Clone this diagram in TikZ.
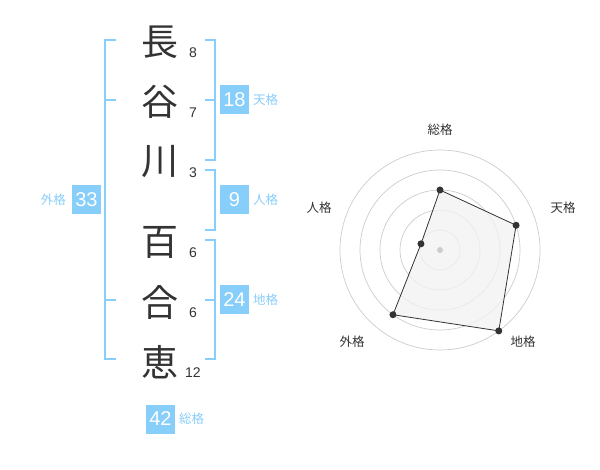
\documentclass[tikz,border=0pt]{standalone}
\usepackage{fontspec}
\usetikzlibrary{calc}
\setmainfont{Noto Sans CJK JP}
\newfontfamily\digitfont{Liberation Sans}
\definecolor{sky}{HTML}{87CEFA}
\definecolor{ink}{HTML}{333333}
\definecolor{ring}{HTML}{CCCCCC}
\definecolor{area}{HTML}{F2F2F2}
\tikzset{
  kanji/.style={font=\fontsize{37}{37}\selectfont, text=ink, inner sep=0pt},
  stroke/.style={font=\digitfont\fontsize{14}{14}\selectfont, text=ink, inner sep=0pt},
  numbox/.style={fill=sky, text=white, minimum width=29pt, minimum height=29pt, inner sep=0pt, font=\digitfont\fontsize{20}{20}\selectfont},
  kakulab/.style={text=sky, font=\fontsize{12.5}{12.5}\selectfont, inner sep=0pt},
  bracket/.style={draw=sky, line width=2pt},
  radarlab/.style={text=ink, font=\fontsize{12.5}{12.5}\selectfont, inner sep=0pt},
  ringline/.style={draw=ring, line width=0.7pt},
  vdot/.style={circle, fill=ink, minimum size=7pt, inner sep=0pt},
}
\begin{document}
\begin{tikzpicture}[x=1pt,y=-1pt]
\useasboundingbox (0,0) rectangle (600,470);
% kanji
\node[kanji] (k1) at (160,42) {長};
\node[kanji] (k2) at (160,102) {谷};
\node[kanji] (k3) at (160,162) {川};
\node[kanji] (k4) at (160,242) {百};
\node[kanji] (k5) at (160,302) {合};
\node[kanji] (k6) at (160,362) {恵};
% stroke counts
\node[stroke] (s1) at (193,53) {8};
\node[stroke] (s2) at (193,113) {7};
\node[stroke] (s3) at (193,173) {3};
\node[stroke] (s4) at (193,253) {6};
\node[stroke] (s5) at (193,313) {6};
\node[stroke] (s6) at (193,373) {12};
% brackets
\draw[bracket] (116,40) -- (105,40) -- (105,359) -- (116,359);
\draw[bracket] (105,100) -- (116,100);
\draw[bracket] (105,300) -- (116,300);
\draw[bracket] (205,40) -- (215,40) -- (215,160) -- (205,160);
\draw[bracket] (205,100) -- (215,100);
\draw[bracket] (205,170) -- (215,170) -- (215,230) -- (205,230);
\draw[bracket] (205,240) -- (215,240) -- (215,359) -- (205,359);
\draw[bracket] (205,300) -- (215,300);
% boxes
\node[numbox] (b18) at (234.5,100) {18};
\node[kakulab, anchor=west] (l18) at (253,100) {天格};
\node[numbox] (b9) at (234.5,200) {9};
\node[kakulab, anchor=west] (l9) at (253,200) {人格};
\node[numbox] (b24) at (234.5,300) {24};
\node[kakulab, anchor=west] (l24) at (253,300) {地格};
\node[numbox] (b33) at (86.5,200) {33};
\node[kakulab, anchor=east] (l33) at (66,200) {外格};
\node[numbox] (b42) at (160.5,419) {42};
\node[kakulab, anchor=west] (l42) at (179,419) {総格};
% radar
\coordinate (c) at (440,250);
\foreach \r in {20,40,60,80,100} \draw[ringline] (c) circle[radius=\r pt];
\coordinate (p1) at ($(c)+(90:60pt)$);
\coordinate (p2) at ($(c)+(18:80pt)$);
\coordinate (p3) at ($(c)+(-54:100pt)$);
\coordinate (p4) at ($(c)+(-126:80pt)$);
\coordinate (p5) at ($(c)+(162:20pt)$);
\fill[area, opacity=0.8] (p1) -- (p2) -- (p3) -- (p4) -- (p5) -- cycle;
\draw[ink, line width=0.8pt] (p1) -- (p2) -- (p3) -- (p4) -- (p5) -- cycle;
\node[circle, fill=ring, minimum size=6pt, inner sep=0pt] (cd) at (c) {};
\foreach \p in {p1,p2,p3,p4,p5} \node[vdot] at (\p) {};
\node[radarlab] (r1) at (440,130) {総格};
\node[radarlab] (r2) at (563,208) {天格};
\node[radarlab] (r3) at (523,342) {地格};
\node[radarlab] (r4) at (352,342) {外格};
\node[radarlab] (r5) at (319,208) {人格};
\end{tikzpicture}
\end{document}
